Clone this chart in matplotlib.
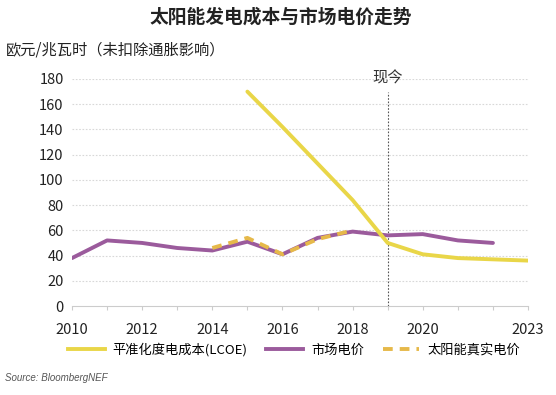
import matplotlib
matplotlib.use("Agg")
import matplotlib.pyplot as plt
from matplotlib.lines import Line2D

plt.rcParams['font.family'] = ['Noto Sans CJK SC', 'DejaVu Sans']

title = "太阳能发电成本与市场电价走势"
ylabel = "欧元/兆瓦时（未扣除通胀影响）"
now_label = "现今"
source = "Source: BloombergNEF"

lcoe_years = [2015, 2016, 2017, 2018, 2019, 2020, 2021, 2022, 2023]
lcoe_vals = [170, 142, 113, 84, 50, 41, 38, 37, 36]

market_years = [2010, 2011, 2012, 2013, 2014, 2015, 2016, 2017, 2018, 2019, 2020, 2021, 2022]
market_vals = [38, 52, 50, 46, 44, 51, 41, 54, 59, 56, 57, 52, 50]

solar_years = [2014, 2015, 2016, 2017, 2018]
solar_vals = [46, 54, 41, 53, 60]

xticks = [2010, 2012, 2014, 2016, 2018, 2020, 2023]
yticks = [0, 20, 40, 60, 80, 100, 120, 140, 160, 180]
now_year = 2019

labels = ["平准化度电成本(LCOE)", "市场电价", "太阳能真实电价"]
c_lcoe = "#e9d648"
c_market = "#9b5b9c"
c_solar = "#e6b94a"

fig = plt.figure(figsize=(5.56, 3.95), dpi=100)
ax = fig.add_axes([72/556, 1-306/395, (528-72)/556, (306-79)/395])

ax.set_xlim(2010, 2023)
ax.set_ylim(0, 180)
for y in yticks[1:]:
    ax.axhline(y, color="#d8d8d8", lw=0.8, ls=(0, (1.5, 1.5)), zorder=0)

ax.plot(lcoe_years, lcoe_vals, color=c_lcoe, lw=2.8, solid_capstyle='round', zorder=3)
ax.plot(market_years, market_vals, color=c_market, lw=2.8, solid_capstyle='round', zorder=2)
ax.plot(solar_years, solar_vals, color=c_solar, lw=2.8, ls=(0, (2.5, 1.8)), zorder=4)

ax.plot([now_year, now_year], [0, 170], color="#555555", lw=0.8, ls=(0, (1.5, 1.5)), zorder=1, clip_on=False)
ax.text(now_year, 181, now_label, ha='center', va='center', fontsize=11, color="#333333")

for s in ['top', 'right', 'left']:
    ax.spines[s].set_visible(False)
ax.spines['bottom'].set_color("#cccccc")
ax.spines['bottom'].set_linewidth(0.8)

ax.set_xticks(range(2010, 2024))
ax.set_xticklabels([str(y) if y in xticks else "" for y in range(2010, 2024)])
ax.set_yticks(yticks)
ax.tick_params(axis='x', length=3, color="#cccccc", labelsize=10.5, labelcolor="#222222", pad=9)
ax.tick_params(axis='y', length=0, labelsize=10.5, labelcolor="#222222", pad=6)

fig.text(281/556, 1-17/395, title, ha='center', va='center', fontsize=13.5, color="#222222",
         fontweight='bold')
fig.text(6/556, 1-50/395, ylabel, ha='left', va='center', fontsize=11, color="#222222")

handles = [
    Line2D([0], [0], color=c_lcoe, lw=2.8),
    Line2D([0], [0], color=c_market, lw=2.8),
    Line2D([0], [0], color=c_solar, lw=2.8, ls=(0, (2.5, 1.8))),
]
fig.legend(handles, labels, loc='center', bbox_to_anchor=(294/556, 1-350/395), ncol=3,
           frameon=False, fontsize=9.5, handlelength=2.8, columnspacing=1.4, handletextpad=0.6)

fig.text(5/556, 1-378/395, source, ha='left', va='center', fontsize=7, style='italic', color="#555555",
         family=['Liberation Sans', 'DejaVu Sans'])

fig.savefig("out.png", dpi=100)
